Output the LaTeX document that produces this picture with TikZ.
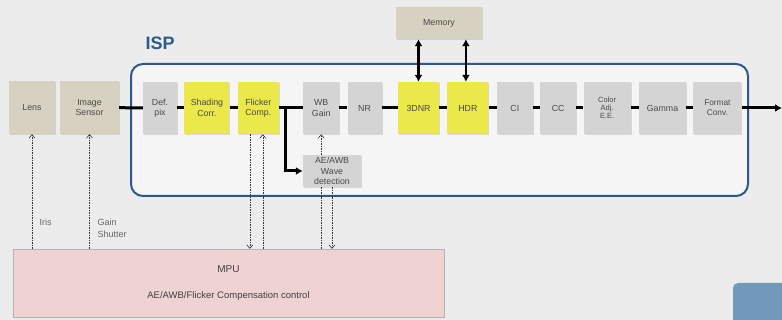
\documentclass[tikz,border=0pt]{standalone}
\usepackage{fontspec}
\setmainfont{Liberation Sans}
\usepackage{tikz}
\usetikzlibrary{positioning, arrows.meta, shadows}

\definecolor{bgcol}{HTML}{ECECEC}
\definecolor{ispblue}{HTML}{2D5A8C}
\definecolor{ispfill}{HTML}{F5F5F5}
\definecolor{tanbox}{HTML}{D6D1C0}
\definecolor{graybox}{HTML}{D4D4D4}
\definecolor{yellowbox}{HTML}{EBE84A}
\definecolor{pinkbox}{HTML}{EFD3D3}
\definecolor{txtgray}{HTML}{4A4A4A}
\definecolor{cornerblue}{HTML}{7199BB}

\begin{document}
\begin{tikzpicture}[x=1pt, y=-1pt, node distance=8pt]
    % Define styles
    \tikzset{
        every node/.style={font=\fontsize{8.8}{10.5}\selectfont, text=txtgray},
        blk/.style={rectangle, inner sep=0pt, minimum height=52pt, align=center,
            drop shadow={shadow xshift=1pt, shadow yshift=-1pt, opacity=0.25}},
        gblk/.style={blk, fill=graybox},
        yblk/.style={blk, fill=yellowbox},
        tblk/.style={blk, fill=tanbox},
        link/.style={line width=3pt},
        arrow/.style={line width=3pt, -{Latex[length=7pt, width=8pt]}},
        biarrow/.style={line width=2.2pt, {Latex[length=7pt, width=8pt]}-{Latex[length=7pt, width=8pt]}},
        ctrl/.style={line width=0.6pt, black!80, dash pattern=on 1.5pt off 1pt},
        ctrlarrow/.style={ctrl, -{Straight Barb[length=3.5pt, width=6pt]}}
    }

    % Background and ISP frame
    \fill[bgcol] (0,0) rectangle (782,320);
    \useasboundingbox (0,0) rectangle (782,320);
    \draw[ispblue, line width=2pt, fill=ispfill, rounded corners=12pt] (131,64) rectangle (748,196);
    \node (isp) [anchor=west, font=\fontsize{18}{20}\selectfont\bfseries, text=ispblue] at (142,43) {ISP};
    \fill[cornerblue, rounded corners=5pt] (733,283) rectangle (790,330);

    % Camera front end
    \node (lens) [tblk, minimum width=46pt, minimum height=53pt] at (32,107.5) {Lens};
    \node (sens) [tblk, minimum width=59pt, minimum height=53pt] at (89.5,107.5) {Image\\Sensor};

    % ISP pipeline
    \node (def) [gblk, minimum width=34pt] at (160,108) {Def.\\pix};
    \node (shd) [yblk, minimum width=45pt, right=7pt of def] {Shading\\Corr.};
    \node (flk) [yblk, minimum width=41pt, right=8pt of shd] {Flicker\\Comp.};
    \node (wb) [gblk, minimum width=36pt, right=24pt of flk] {WB\\Gain};
    \node (nr) [gblk, minimum width=34pt, right=8pt of wb] {NR};
    \node (dnr) [yblk, minimum width=41pt, right=16pt of nr] {3DNR};
    \node (hdr) [yblk, minimum width=41pt, right=8pt of dnr] {HDR};
    \node (ci) [gblk, minimum width=36pt, right=8pt of hdr] {CI};
    \node (cc) [gblk, minimum width=36pt, right=7pt of ci] {CC};
    \node (col) [gblk, minimum width=47pt, right=7pt of cc, font=\fontsize{7.5}{7.8}\selectfont] {Color\\Adj.\\E.E.};
    \node (gam) [gblk, minimum width=47pt, right=8pt of col] {Gamma};
    \node (fmt) [gblk, minimum width=48pt, right=7pt of gam, font=\fontsize{8.3}{10}\selectfont] {Format\\Conv.};

    % Memory, detection and MPU
    \node (mem) [tblk, minimum width=86pt, minimum height=32pt] at (439,23) {Memory};
    \node (ae) [gblk, minimum width=58pt, minimum height=32pt] at (332,171) {AE/AWB\\Wave\\detection};
    \node (mpu) [rectangle, draw=black!30, fill=pinkbox, minimum width=431pt, minimum height=68pt,
        drop shadow={shadow xshift=1pt, shadow yshift=-1pt, opacity=0.25}] at (228.5,283) {};
    \node (mputl) [font=\fontsize{10}{12}\selectfont, text=black!75] at (228.5,269) {MPU};
    \node (mpudesc) [font=\fontsize{9.5}{12}\selectfont, text=black!75] at (228.5,296) {AE/AWB/Flicker Compensation control};

    % Data path
    \coordinate (br) at (285,108);
    \coordinate (out) at (782,108);
    \draw [link] (sens) -- (def);
    \foreach \a/\b in {def/shd, shd/flk, flk/wb, wb/nr, nr/dnr, dnr/hdr, hdr/ci, ci/cc, cc/col, col/gam, gam/fmt}
        \draw [link] (\a) -- (\b);
    \draw [arrow] (fmt) -- (out);
    \draw [arrow] (br) |- (ae.west);
    \draw [biarrow] (mem.south -| dnr.north) -- (dnr.north);
    \draw [biarrow] ([xshift=-2pt]mem.south -| hdr.north) -- ([xshift=-2pt]hdr.north);

    % Control lines
    \draw [ctrlarrow] (lens.south |- mpu.north) -- (lens.south);
    \draw [ctrlarrow] (sens.south |- mpu.north) -- (sens.south);
    \draw [ctrlarrow] ([xshift=-8.5pt]flk.south) -- ([xshift=-8.5pt]flk.south |- mpu.north);
    \draw [ctrlarrow] ([xshift=4.5pt]flk.south |- mpu.north) -- ([xshift=4.5pt]flk.south);
    \draw [ctrl] (wb.south |- mpu.north) -- (wb.south |- ae.south);
    \draw [ctrlarrow] (wb.south |- ae.north) -- (wb.south);
    \draw [ctrlarrow] (ae.south) -- (ae.south |- mpu.north);
    \node (iris) [anchor=west, font=\fontsize{9}{11}\selectfont, text=black!60] at (36,222) {Iris};
    \node (gsh) [anchor=north west, align=left, font=\fontsize{9}{12}\selectfont, text=black!60] at (94,215) {Gain\\Shutter};
\end{tikzpicture}
\end{document}
